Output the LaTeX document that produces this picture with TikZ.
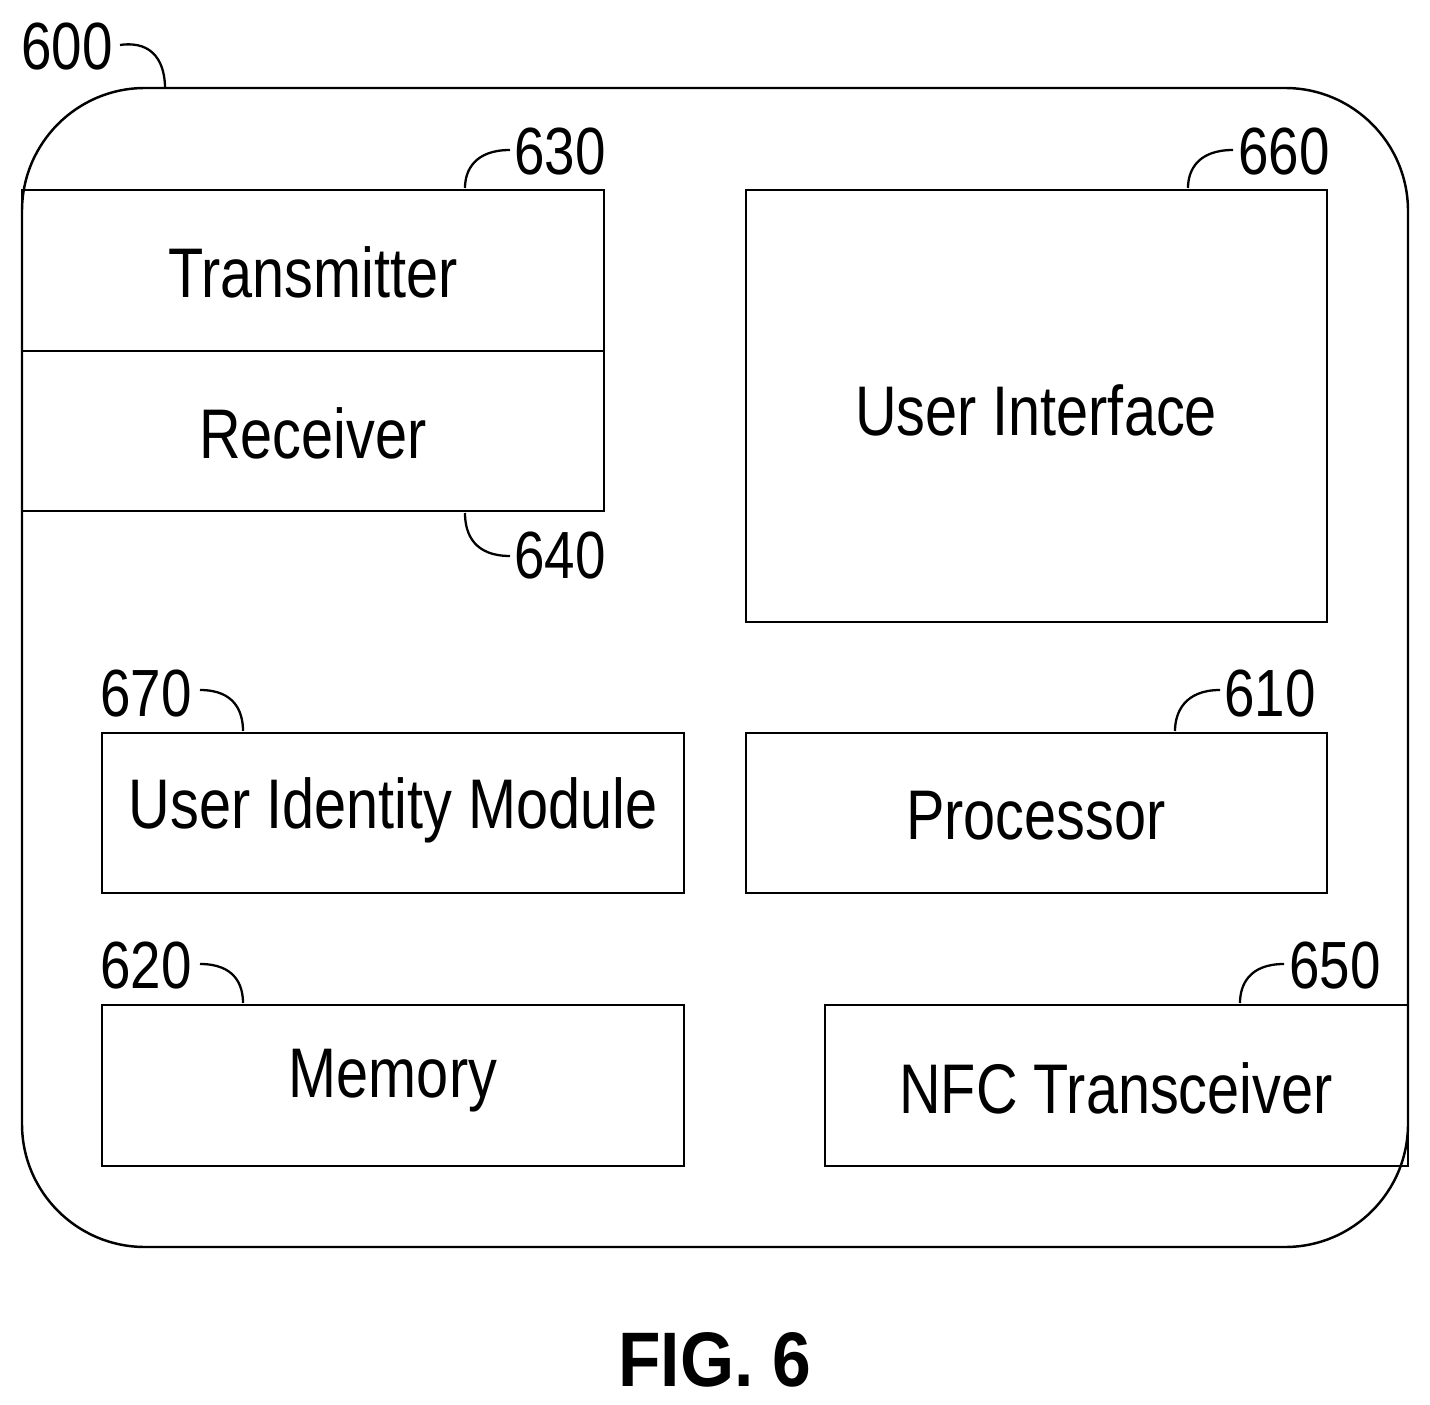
\documentclass[tikz,border=0pt]{standalone}
\usepackage{fontspec}
\setmainfont{Liberation Sans}[FakeStretch=0.82]
\newfontfamily\figfont{Liberation Sans}[FakeStretch=0.9]
\begin{document}
\begin{tikzpicture}[x=0.02cm,y=-0.02cm,line width=1.4pt,
  box/.style={draw,line width=1.4pt},
  txt/.style={font=\fontsize{40}{40}\selectfont,inner sep=0},
  num/.style={font=\fontsize{38}{38}\selectfont,inner sep=0},
  lead/.style={line width=1.3pt}]
\useasboundingbox (0,0) rectangle (1430,1405);
\draw[rounded corners=70] (22,88) rectangle (1408,1247);
\draw[box] (22,190) rectangle (604,351);
\draw[box] (22,351) rectangle (604,511);
\draw[box] (746,190) rectangle (1327,622);
\draw[box] (102,733) rectangle (684,893);
\draw[box] (746,733) rectangle (1327,893);
\draw[box] (102,1005) rectangle (684,1166);
\draw[box] (825,1005) rectangle (1408,1166);
\node[txt] (tx) at (313,272) {Transmitter};
\node[txt] (rx) at (313,433) {Receiver};
\node[txt] (ui) at (1036,410) {User Interface};
\node[txt] (uim) at (393,810) {User Identity Module};
\node[txt] (proc) at (1036,816) {Processor};
\node[txt] (mem) at (393,1081) {Memory};
\node[txt] (nfc) at (1116,1088) {NFC Transceiver};
\node[num] (n600) at (67,47) {600};
\node[num] (n630) at (560,152) {630};
\node[num] (n640) at (560,556) {640};
\node[num] (n660) at (1284,152) {660};
\node[num] (n670) at (146,694) {670};
\node[num] (n610) at (1270,694) {610};
\node[num] (n620) at (146,966) {620};
\node[num] (n650) at (1335,966) {650};
\draw[lead] (120,45) .. controls (155,40) and (165,65) .. (165,88);
\draw[lead] (510,150) .. controls (475,150) and (465,170) .. (465,188);
\draw[lead] (510,556) .. controls (475,556) and (465,535) .. (465,513);
\draw[lead] (1233,150) .. controls (1198,150) and (1188,170) .. (1188,188);
\draw[lead] (200,690) .. controls (235,690) and (243,712) .. (243,731);
\draw[lead] (1220,690) .. controls (1185,690) and (1175,712) .. (1175,731);
\draw[lead] (200,964) .. controls (235,964) and (243,985) .. (243,1003);
\draw[lead] (1284,964) .. controls (1249,964) and (1240,985) .. (1240,1003);
\node[font=\figfont\bfseries\fontsize{44}{44}\selectfont,inner sep=0] (fig) at (715,1360) {FIG. 6};
\end{tikzpicture}
\end{document}
